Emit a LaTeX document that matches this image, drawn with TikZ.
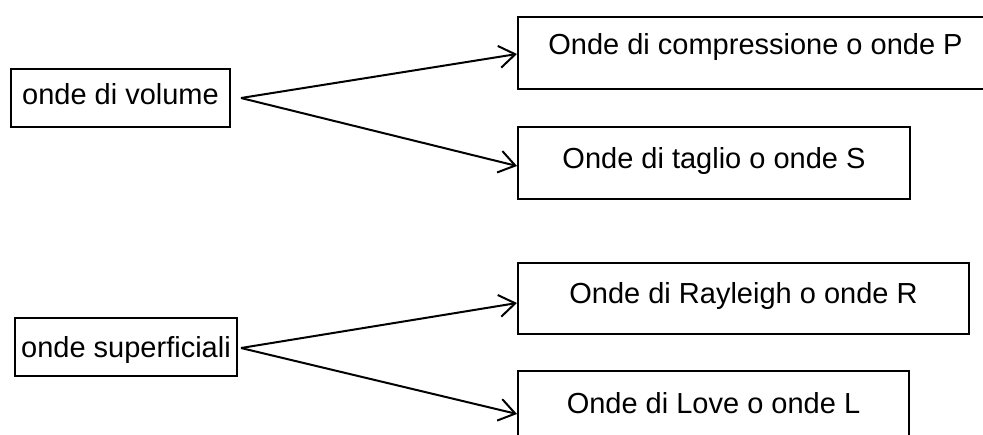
\documentclass[tikz,border=0pt]{standalone}
\usepackage{fontspec}
\setmainfont{Liberation Sans}
\usetikzlibrary{arrows.meta}
\begin{document}
\begin{tikzpicture}[x=1pt,y=-1pt,
  box/.style={draw,line width=2pt,inner sep=0pt,anchor=north west,align=center,
    font=\fontsize{29}{34}\selectfont},
  conn/.style={line width=2pt,-{Straight Barb[length=16pt,width=22pt,line width=2pt]}}]
\useasboundingbox (0,0) rectangle (983,434);
\clip (0,0) rectangle (983,434);
\fill[white] (0,0) rectangle (983,434);
\node[box,minimum width=219pt,minimum height=58pt,text height=35pt,text depth=23pt] (vol) at (10,68) {onde di volume};
\node[box,minimum width=222pt,minimum height=58pt,text height=39pt,text depth=19pt] (sup) at (14,317) {onde superficiali};
\node[box,minimum width=475pt,minimum height=72pt,text height=37pt,text depth=35pt] (P) at (517,16) {Onde di compressione o onde P};
\node[box,minimum width=392pt,minimum height=72pt,text height=41pt,text depth=31pt] (S) at (517,126) {Onde di taglio o onde S};
\node[box,minimum width=451pt,minimum height=71pt,text height=40pt,text depth=31pt] (R) at (517,262) {Onde di Rayleigh o onde R};
\node[box,minimum width=391pt,minimum height=72pt,text height=42pt,text depth=30pt] (L) at (517,370) {Onde di Love o onde L};
\coordinate (vs) at ([xshift=10pt]vol.east);
\coordinate (ss) at ([xshift=3pt,yshift=-1pt]sup.east);
\draw[conn] (vs) -- ([yshift=-1pt]P.west);
\draw[conn] (vs) -- ([yshift=-3pt]S.west);
\draw[conn] (ss) -- ([yshift=-4.5pt]R.west);
\draw[conn] (ss) -- ([yshift=-7pt]L.west);
\end{tikzpicture}
\end{document}
